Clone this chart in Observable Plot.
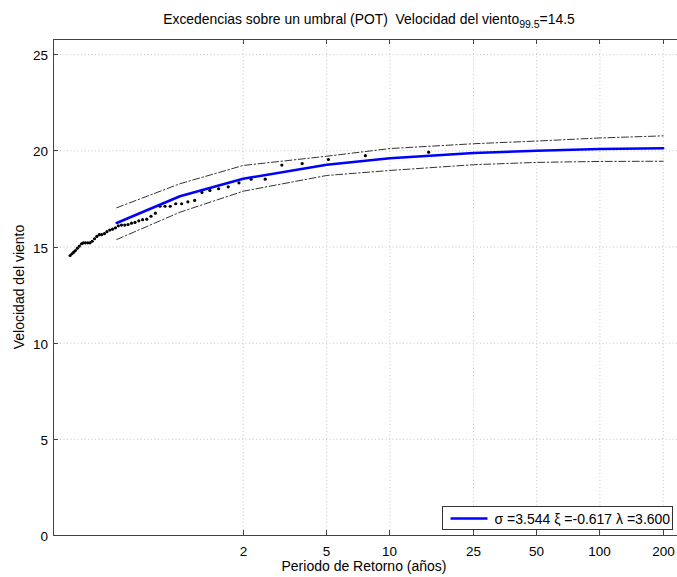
<!DOCTYPE html>
<html><head><meta charset="utf-8">
<script src="https://cdn.jsdelivr.net/npm/d3@7"></script>
<script src="https://cdn.jsdelivr.net/npm/@observablehq/plot@0.6"></script>
<style>
body{margin:0;background:#fff}
#chart{width:677px;height:577px;overflow:hidden}
</style>
</head><body><div id="chart"></div>
<script>
// ---- data ----
const xTicks = [2, 5, 10, 25, 50, 100, 200];
const yTicks = [0, 5, 10, 15, 20, 25];

// fitted GPD return levels
const fitPeriods = [0.5, 1, 2, 5, 10, 25, 50, 100, 200];
const fitLevels  = [16.25, 17.64, 18.55, 19.28, 19.61, 19.89, 20.01, 20.09, 20.14];
const upperBand  = [17.04, 18.29, 19.24, 19.72, 20.12, 20.37, 20.51, 20.67, 20.78];
const lowerBand  = [15.39, 16.81, 17.90, 18.72, 18.98, 19.28, 19.40, 19.45, 19.46];

// observed exceedances: empirical return period (years) and speed
const obsPeriods = [15.28, 7.64, 5.093, 3.82, 3.056, 2.547, 2.183, 1.91, 1.698, 1.528,
  1.389, 1.273, 1.175, 1.091, 1.019, 0.955, 0.899, 0.849, 0.804, 0.764,
  0.728, 0.695, 0.664, 0.637, 0.611, 0.588, 0.566, 0.546, 0.527, 0.509,
  0.493, 0.4775, 0.463, 0.449, 0.437, 0.424, 0.413, 0.402, 0.392, 0.382,
  0.373, 0.364, 0.355, 0.347, 0.340, 0.332, 0.325, 0.318, 0.312, 0.306,
  0.300];
const obsSpeeds = [19.93, 19.75, 19.55, 19.34, 19.26, 18.53, 18.53, 18.34, 18.13, 18.03,
  17.94, 17.84, 17.42, 17.35, 17.25, 17.25, 17.12, 17.12, 17.12, 16.76,
  16.60, 16.45, 16.42, 16.36, 16.28, 16.24, 16.17, 16.14, 16.14, 16.10,
  16.00, 15.93, 15.88, 15.80, 15.70, 15.64, 15.64, 15.55, 15.43, 15.30,
  15.22, 15.22, 15.22, 15.22, 15.17, 15.05, 14.94, 14.82, 14.73, 14.65,
  14.56];

const titleMain = "Excedencias sobre un umbral (POT)  Velocidad del viento";
const titleSub = "99.5";
const titleEnd = "=14.5";
const xLabel = "Periodo de Retorno (años)";
const yLabel = "Velocidad del viento";
const legendText = "σ =3.544 ξ =-0.617 λ =3.600";

const font = "'Liberation Sans', Arial, Helvetica, sans-serif";

const fitRows = fitPeriods.map((t, i) => ({t, v: fitLevels[i]}));
const upRows = fitPeriods.map((t, i) => ({t, v: upperBand[i]}));
const loRows = fitPeriods.map((t, i) => ({t, v: lowerBand[i]}));
const obsRows = obsPeriods.map((t, i) => ({t, v: obsSpeeds[i]}));

// axes, ticks (inward, MATLAB style), labels, title, legend
function decorations(index, scales, values, dims) {
  const x = scales.x, y = scales.y;
  const L = dims.marginLeft, T = dims.marginTop;
  const R = dims.width - dims.marginRight, B = dims.height - dims.marginBottom;
  const g = d3.create("svg:g").attr("font-family", font).attr("fill", "#000");
  const axisColor = "#444";
  // box lines (right side falls outside the picture)
  g.append("line").attr("x1", L + 0.5).attr("x2", L + 0.5).attr("y1", T).attr("y2", B).attr("stroke", axisColor);
  g.append("line").attr("x1", L).attr("x2", R + 2).attr("y1", B + 0.5).attr("y2", B + 0.5).attr("stroke", axisColor);
  g.append("line").attr("x1", L).attr("x2", R + 2).attr("y1", T + 0.5).attr("y2", T + 0.5).attr("stroke", axisColor);
  const tk = 5;
  for (const t of xTicks) {
    const px = Math.round(x(t)) + 0.5;
    g.append("line").attr("x1", px).attr("x2", px).attr("y1", B).attr("y2", B - tk).attr("stroke", axisColor);
    g.append("line").attr("x1", px).attr("x2", px).attr("y1", T).attr("y2", T + tk).attr("stroke", axisColor);
    g.append("text").attr("x", px).attr("y", B + 21).attr("text-anchor", "middle")
      .attr("font-size", 13.5).text(String(t));
  }
  for (const v of yTicks) {
    const py = Math.round(y(v)) + 0.5;
    g.append("line").attr("x1", L).attr("x2", L + tk).attr("y1", py).attr("y2", py).attr("stroke", axisColor);
    g.append("text").attr("x", L - 5).attr("y", py + 5).attr("text-anchor", "end")
      .attr("font-size", 13.5).text(String(v));
  }
  // axis titles
  g.append("text").attr("x", (L + R) / 2 - 1).attr("y", B + 36).attr("text-anchor", "middle")
    .attr("font-size", 14).text(xLabel);
  g.append("text").attr("transform", `translate(${L - 29},${(T + B) / 2}) rotate(-90)`)
    .attr("text-anchor", "middle").attr("font-size", 14).text(yLabel);
  // title
  const tt = g.append("text").attr("x", (L + R) / 2 + 4).attr("y", 24).attr("text-anchor", "middle")
    .attr("font-size", 13.9);
  tt.append("tspan").text(titleMain);
  tt.append("tspan").attr("dy", 4).attr("font-size", 10.5).text(titleSub);
  tt.append("tspan").attr("dy", -4).text(titleEnd);
  // legend
  const lx = 442.5, ly = 506.5, lw = 230, lh = 23;
  g.append("rect").attr("x", lx).attr("y", ly).attr("width", lw).attr("height", lh)
    .attr("fill", "#fff").attr("stroke", "#333");
  g.append("line").attr("x1", lx + 8).attr("x2", lx + 45).attr("y1", ly + 12).attr("y2", ly + 12)
    .attr("stroke", "#0000ff").attr("stroke-width", 2.5);
  g.append("text").attr("x", lx + 52).attr("y", ly + 17).attr("text-anchor", "start")
    .attr("font-size", 14).text(legendText);
  return g.node();
}

const chart = Plot.plot({
  width: 677, height: 577,
  marginLeft: 53, marginRight: 0, marginTop: 39, marginBottom: 42,
  style: {fontFamily: font, background: "#fff", overflow: "visible"},
  x: {type: "log", domain: [0.25, 234], axis: null},
  y: {domain: [0, 25.79], axis: null},
  marks: [
    Plot.ruleX(xTicks, {x: d => d, stroke: "#c4c4c4", strokeOpacity: 1, strokeDasharray: "1,2.5"}),
    Plot.ruleY(yTicks.slice(1), {y: d => d, stroke: "#c4c4c4", strokeOpacity: 1, strokeDasharray: "1,2.5"}),
    Plot.line(upRows, {x: "t", y: "v", stroke: "#333", strokeWidth: 1, strokeDasharray: "7,2.5,1.5,2.5"}),
    Plot.line(loRows, {x: "t", y: "v", stroke: "#333", strokeWidth: 1, strokeDasharray: "7,2.5,1.5,2.5"}),
    Plot.dot(obsRows, {x: "t", y: "v", r: 1.6, fill: "#000", stroke: "none"}),
    Plot.line(fitRows, {x: "t", y: "v", stroke: "#0000ff", strokeWidth: 2.5}),
    decorations
  ]
});
document.getElementById("chart").appendChild(chart);
</script>
</body></html>
